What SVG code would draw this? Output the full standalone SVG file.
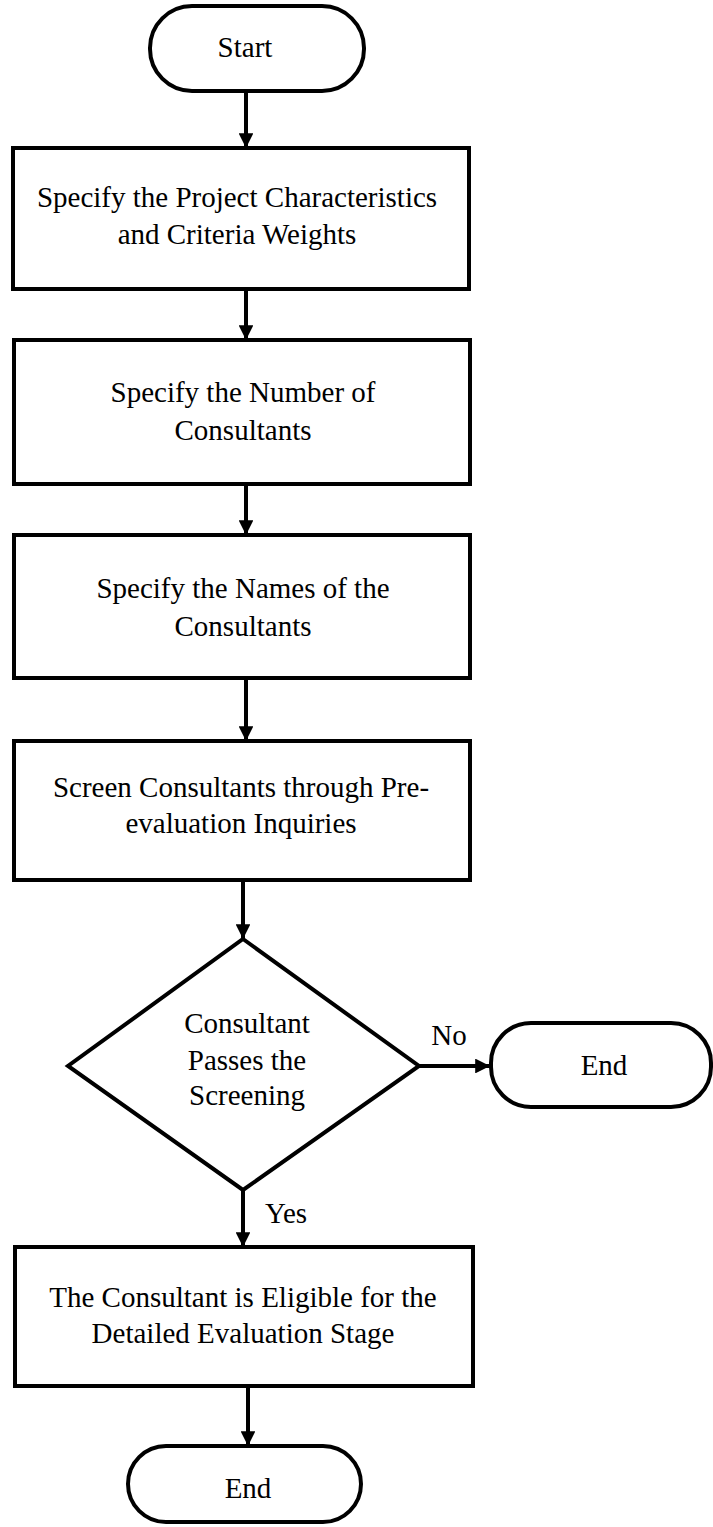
<svg xmlns="http://www.w3.org/2000/svg" width="713" height="1527" viewBox="0 0 713 1527">
  <style>
    .shape { fill: #ffffff; stroke: #000000; stroke-width: 4; }
    .edge { fill: none; stroke: #000000; stroke-width: 4; }
    .label { font-family: "Liberation Serif", "Times New Roman", serif; font-size: 29px; fill: #000000; text-anchor: middle; }
  </style>
  <defs>
    <marker id="arrow" viewBox="0 0 10 10" refX="10" refY="5" markerWidth="3.9" markerHeight="3.7" markerUnits="strokeWidth" orient="auto">
      <path d="M0,0 L10,5 L0,10 Z" fill="#000000"/>
    </marker>
  </defs>
  <rect width="713" height="1527" fill="#ffffff"/>

  <g id="connectors">
    <line class="edge" x1="246" y1="91" x2="246" y2="148" marker-end="url(#arrow)"/>
    <line class="edge" x1="246" y1="289" x2="246" y2="340" marker-end="url(#arrow)"/>
    <line class="edge" x1="246" y1="484" x2="246" y2="535" marker-end="url(#arrow)"/>
    <line class="edge" x1="246" y1="678" x2="246" y2="741" marker-end="url(#arrow)"/>
    <line class="edge" x1="243" y1="880" x2="243" y2="939" marker-end="url(#arrow)"/>
    <line class="edge" x1="419" y1="1066" x2="490" y2="1066" marker-end="url(#arrow)"/>
    <line class="edge" x1="243" y1="1190" x2="243" y2="1247" marker-end="url(#arrow)"/>
    <line class="edge" x1="248" y1="1386" x2="248" y2="1446" marker-end="url(#arrow)"/>
    <text class="label" x="449" y="1045">No</text>
    <text class="label" x="286" y="1223">Yes</text>
  </g>

  <g id="start">
    <rect class="shape" x="150" y="6" width="214" height="85" rx="42" ry="42"/>
    <text class="label" x="245" y="57">Start</text>
  </g>

  <g id="project-characteristics">
    <rect class="shape" x="13" y="148" width="456" height="141"/>
    <text class="label" x="237" y="207">Specify the Project Characteristics</text>
    <text class="label" x="237" y="244">and Criteria Weights</text>
  </g>

  <g id="number-of-consultants">
    <rect class="shape" x="14" y="340" width="456" height="144"/>
    <text class="label" x="243" y="402">Specify the Number of</text>
    <text class="label" x="243" y="440">Consultants</text>
  </g>

  <g id="names-of-consultants">
    <rect class="shape" x="14" y="535" width="456" height="143"/>
    <text class="label" x="243" y="598">Specify the Names of the</text>
    <text class="label" x="243" y="636">Consultants</text>
  </g>

  <g id="screening">
    <rect class="shape" x="14" y="741" width="456" height="139"/>
    <text class="label" x="241" y="797">Screen Consultants through Pre-</text>
    <text class="label" x="241" y="833">evaluation Inquiries</text>
  </g>

  <g id="decision">
    <polygon class="shape" points="243,939 419,1066 243,1190 68,1066"/>
    <text class="label" x="247" y="1033">Consultant</text>
    <text class="label" x="247" y="1070">Passes the</text>
    <text class="label" x="247" y="1105">Screening</text>
  </g>

  <g id="end-rejected">
    <rect class="shape" x="491" y="1023" width="220" height="84" rx="40" ry="40"/>
    <text class="label" x="604" y="1075">End</text>
  </g>

  <g id="eligible">
    <rect class="shape" x="15" y="1247" width="458" height="139"/>
    <text class="label" x="243" y="1307">The Consultant is Eligible for the</text>
    <text class="label" x="243" y="1343">Detailed Evaluation Stage</text>
  </g>

  <g id="end">
    <rect class="shape" x="128" y="1446" width="233" height="76" rx="38" ry="38"/>
    <text class="label" x="248" y="1498">End</text>
  </g>
</svg>
